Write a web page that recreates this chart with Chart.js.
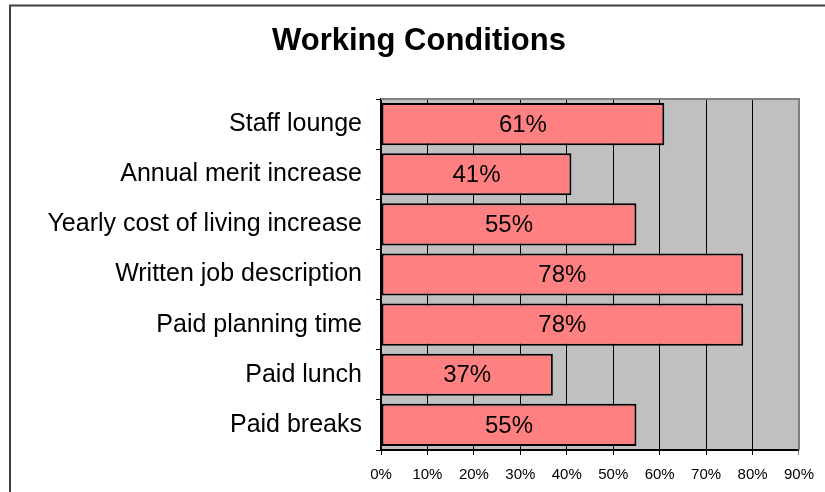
<!DOCTYPE html>
<html>
<head>
<meta charset="utf-8">
<script src="https://cdn.jsdelivr.net/npm/chart.js@4/dist/chart.umd.min.js"></script>
<style>
  html, body { margin: 0; padding: 0; background: #fff; }
  #wrap { width: 825px; height: 492px; position: relative; }
</style>
</head>
<body>
<div id="wrap"><canvas id="chart"></canvas></div>
<script>
const chartTitle = 'Working Conditions';
const categories = [
  'Staff lounge',
  'Annual merit increase',
  'Yearly cost of living increase',
  'Written job description',
  'Paid planning time',
  'Paid lunch',
  'Paid breaks'
];
const percentValues = [61, 41, 55, 78, 78, 37, 55];
const xTicks = [0, 10, 20, 30, 40, 50, 60, 70, 80, 90];

const FONT = '"Liberation Sans", Arial, sans-serif';

// gray plot background, gray top/right plot edge, outer frame, title
const plotBackground = {
  id: 'plotBackground',
  beforeDraw(chart) {
    const { ctx, chartArea: a } = chart;
    ctx.save();
    ctx.fillStyle = '#C0C0C0';
    ctx.fillRect(a.left, a.top, a.right - a.left, a.bottom - a.top);
    ctx.restore();
  },
  afterDraw(chart) {
    const { ctx, chartArea: a } = chart;
    ctx.save();
    ctx.strokeStyle = '#808080';
    ctx.lineWidth = 2;
    ctx.beginPath();
    ctx.moveTo(a.left, a.top);
    ctx.lineTo(a.right, a.top);
    ctx.lineTo(a.right, a.bottom);
    ctx.stroke();

    ctx.strokeStyle = '#404040';
    ctx.lineWidth = 2;
    ctx.beginPath();
    ctx.moveTo(10, chart.height);
    ctx.lineTo(10, 5.5);
    ctx.lineTo(chart.width, 5.5);
    ctx.stroke();

    ctx.fillStyle = '#000';
    ctx.font = 'bold 31px ' + FONT;
    ctx.textAlign = 'center';
    ctx.textBaseline = 'middle';
    ctx.fillText(chartTitle, 419, 41);
    ctx.restore();
  }
};

// value labels centred in each bar
const barLabels = {
  id: 'barLabels',
  afterDatasetsDraw(chart) {
    const { ctx } = chart;
    const meta = chart.getDatasetMeta(0);
    ctx.save();
    ctx.font = '24px ' + FONT;
    ctx.fillStyle = '#000';
    ctx.textAlign = 'center';
    ctx.textBaseline = 'middle';
    meta.data.forEach((bar, i) => {
      const x = (bar.x + bar.base) / 2;
      ctx.fillText(percentValues[i] + '%', x, bar.y + 1);
    });
    ctx.restore();
  }
};

new Chart(document.getElementById('chart'), {
  type: 'bar',
  data: {
    labels: categories,
    datasets: [{
      data: percentValues,
      backgroundColor: '#FF8080',
      borderColor: '#000000',
      borderWidth: 2,
      borderSkipped: false,
      categoryPercentage: 1,
      barPercentage: 0.84
    }]
  },
  options: {
    indexAxis: 'y',
    responsive: true,
    maintainAspectRatio: false,
    animation: false,
    layout: { padding: { left: 0, right: 26, top: 99, bottom: 0 } },
    plugins: {
      legend: { display: false },
      tooltip: { enabled: false },
      title: { display: false }
    },
    scales: {
      x: {
        min: 0,
        max: 90,
        afterBuildTicks(scale) {
          scale.ticks = xTicks.map(v => ({ value: v }));
        },
        afterFit(scale) { scale.height = 42; },
        ticks: {
          color: '#000',
          font: { family: FONT, size: 15 },
          padding: 11,
          callback: v => v + '%'
        },
        grid: {
          color: ctx => (ctx.tick && ctx.tick.value === 90 ? '#808080' : '#000000'),
          lineWidth: 1,
          tickLength: 5
        },
        border: { color: '#000', width: 2 }
      },
      y: {
        afterFit(scale) { scale.width = 381; },
        ticks: {
          color: '#000',
          font: { family: FONT, size: 25 },
          padding: 14
        },
        grid: {
          drawOnChartArea: false,
          color: '#000',
          tickLength: 5
        },
        border: { color: '#000', width: 2 }
      }
    }
  },
  plugins: [plotBackground, barLabels]
});
</script>
</body>
</html>
